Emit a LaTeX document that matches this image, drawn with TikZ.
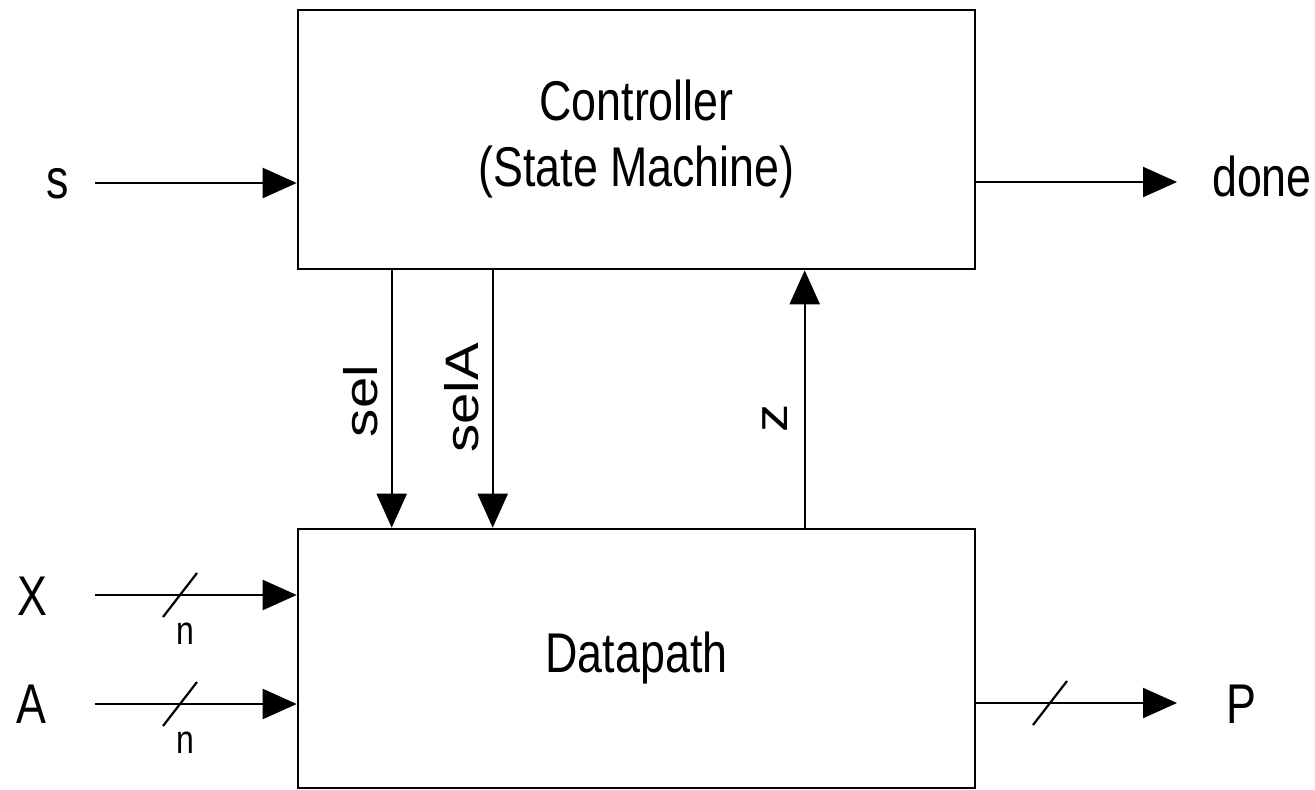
\documentclass[tikz,border=0pt]{standalone}
\usepackage{fontspec}
\setmainfont[FakeStretch=0.8]{Liberation Sans}
\newfontfamily\sidefont[FakeStretch=1.2]{Liberation Sans}
\usepackage{tikz}
\usetikzlibrary{arrows.meta, positioning, calc}

\begin{document}
\begin{tikzpicture}[
    x=1pt, y=-1pt,
    box/.style={draw, rectangle, line width=2.6pt, minimum width=677pt, minimum height=259pt,
      align=center, inner sep=0pt, font=\fontsize{56}{66}\selectfont},
    lbl/.style={inner sep=0pt, font=\fontsize{56}{66}\selectfont},
    wlbl/.style={inner sep=0pt, font=\fontsize{40}{48}\selectfont},
    vlbl/.style={inner sep=0pt, rotate=90, anchor=base, font=\sidefont\fontsize{47}{56}\selectfont},
    sig/.style={line width=2.2pt, -{Triangle[length=34pt, width=30pt]}},
    bus/.style={line width=2.2pt}
]
\useasboundingbox (0,0) rectangle (1315,790);

\node[box] (ctrl) at (636.5,139.5) {Controller\\(State Machine)};
\node[box] (dp) at (636.5,658.5) {Datapath};

\node[lbl] (s) at (58,183.5) {s};
\node[lbl] (x) at (32,596) {X};
\node[lbl] (a) at (31,704) {A};
\node[lbl] (done) at (1262,176) {done};
\node[lbl] (p) at (1241,704) {P};
\node[wlbl] (xn) at (185,634) {n};
\node[wlbl] (an) at (185,743) {n};

\coordinate (sin) at (95,183);
\coordinate (xin) at (95,595);
\coordinate (ain) at (95,704);
\coordinate (doneout) at (1177,182);
\coordinate (pout) at (1177,703);
\coordinate (xbus) at (180,595);
\coordinate (abus) at (180,704);
\coordinate (pbus) at (1050,703);

\draw[sig] (sin) -- (sin -| ctrl.west);
\draw[sig] (xin) -- (xin -| dp.west);
\draw[sig] (ain) -- (ain -| dp.west);
\draw[sig] (doneout -| ctrl.east) -- (doneout);
\draw[sig] (pout -| dp.east) -- (pout);

\draw[bus] ([shift={(-17,22)}]xbus) -- ([shift={(17,-22)}]xbus);
\draw[bus] ([shift={(-17,22)}]abus) -- ([shift={(17,-22)}]abus);
\draw[bus] ([shift={(-17,22)}]pbus) -- ([shift={(17,-22)}]pbus);

\draw[sig] ([xshift=95pt]ctrl.south west) -- ([xshift=95pt]dp.north west);
\draw[sig] ([xshift=196pt]ctrl.south west) -- ([xshift=196pt]dp.north west);
\draw[sig] ([xshift=508pt]dp.north west) -- ([xshift=508pt]ctrl.south west);

\node[vlbl] (sel) at (377,401) {sel};
\node[vlbl] (selA) at (478,398) {selA};
\node[vlbl] (z) at (787,418) {z};
\end{tikzpicture}
\end{document}
